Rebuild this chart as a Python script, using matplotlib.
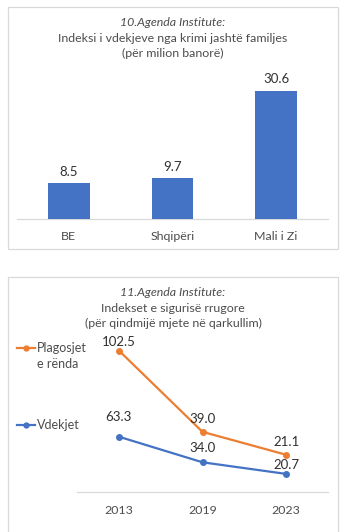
import matplotlib
matplotlib.use("Agg")
import matplotlib.pyplot as plt
from matplotlib.patches import Rectangle
from matplotlib.lines import Line2D

plt.rcParams['font.family'] = ['Lato', 'DejaVu Sans']

# ---- data ----
bar_categories = ["BE", "Shqipëri", "Mali i Zi"]
bar_values = [8.5, 9.7, 30.6]

years = ["2013", "2019", "2023"]
injuries = [102.5, 39.0, 21.1]   # Plagosjet e rënda
deaths = [63.3, 34.0, 20.7]      # Vdekjet

title1 = ["10.Agenda Institute:", "Indeksi i vdekjeve nga krimi jashtë familjes", "(për milion banorë)"]
title2 = ["11.Agenda Institute:", "Indekset e sigurisë rrugore", "(për qindmijë mjete në qarkullim)"]

W, H = 349, 532
fig = plt.figure(figsize=(W / 100, H / 100), dpi=100)
fig.patch.set_facecolor("white")

def fx(px):
    return px / W

def fy(py):
    return 1 - py / H

BLUE = "#4472C4"
ORANGE = "#ED7D31"
GRID = "#D9D9D9"
TXT = "#4D4D4D"
LBL = "#303030"
FS_T = 8.9
FS_V = 9.5
FS_X = 8.9

# chart borders
fig.add_artist(Rectangle((fx(8), fy(249)), fx(338) - fx(8), fy(7) - fy(249),
                         transform=fig.transFigure, fill=False, edgecolor=GRID, lw=0.9))
fig.add_artist(Rectangle((fx(8), fy(545)), fx(338) - fx(8), fy(277) - fy(545),
                         transform=fig.transFigure, fill=False, edgecolor=GRID, lw=0.9))

# ---- top chart: bars ----
ax1 = fig.add_axes([fx(17), fy(219), fx(328) - fx(17), fy(70) - fy(219)])
xs = range(len(bar_categories))
ax1.bar(xs, bar_values, width=0.40, color=BLUE, zorder=3)
ax1.set_xlim(-0.5, 2.5)
ax1.set_ylim(0, 35.62)
for x, v in zip(xs, bar_values):
    ax1.annotate(f"{v:.1f}", (x, v), xytext=(0, 4), textcoords="offset points",
                 ha="center", va="bottom", fontsize=FS_V, color=LBL)
ax1.set_xticks(list(xs))
ax1.set_xticklabels(bar_categories, fontsize=FS_X, color=TXT)
ax1.tick_params(axis="x", length=0, pad=9)
ax1.set_yticks([])
for s in ["top", "left", "right"]:
    ax1.spines[s].set_visible(False)
ax1.spines["bottom"].set_color(GRID)
ax1.spines["bottom"].set_linewidth(0.9)
ax1.patch.set_alpha(0)

fig.text(fx(173), fy(23), title1[0], ha="center", va="center", fontsize=FS_T,
         color=TXT, style="italic")
fig.text(fx(173), fy(38), title1[1], ha="center", va="center", fontsize=FS_T, color=TXT)
fig.text(fx(173), fy(53), title1[2], ha="center", va="center", fontsize=FS_T, color=TXT)

# ---- bottom chart: lines ----
ax2 = fig.add_axes([fx(77), fy(492), fx(328) - fx(77), fy(335) - fy(492)])
xp = range(len(years))
ax2.plot(list(xp), deaths, color=BLUE, lw=1.6, marker="o", ms=4, zorder=3)
ax2.set_xlim(-0.5, 2.5)
ax2.set_ylim(0, 179.7)
ax2.set_xticks(list(xp))
ax2.set_xticklabels(years, fontsize=FS_X, color=TXT)
ax2.tick_params(axis="x", length=0, pad=9)
ax2.set_yticks([])
for s in ["top", "left", "right"]:
    ax2.spines[s].set_visible(False)
ax2.spines["bottom"].set_color(GRID)
ax2.spines["bottom"].set_linewidth(0.9)
ax2.patch.set_alpha(0)

ax3 = ax2.twinx()
ax3.plot(list(xp), injuries, color=ORANGE, lw=1.6, marker="o", ms=4, zorder=3)
ax3.set_ylim(-7.96, 114.6)
ax3.set_yticks([])
for s in ["top", "left", "right", "bottom"]:
    ax3.spines[s].set_visible(False)

inj_off = [2, 5, 5]
dea_off = [10, 6, 2]
for x, v, o in zip(xp, injuries, inj_off):
    ax3.annotate(f"{v:.1f}", (x, v), xytext=(0, o), textcoords="offset points",
                 ha="center", va="bottom", fontsize=FS_V, color=LBL)
for x, v, o in zip(xp, deaths, dea_off):
    ax2.annotate(f"{v:.1f}", (x, v), xytext=(0, o), textcoords="offset points",
                 ha="center", va="bottom", fontsize=FS_V, color=LBL)

fig.text(fx(173), fy(292), title2[0], ha="center", va="center", fontsize=FS_T,
         color=TXT, style="italic")
fig.text(fx(173), fy(308), title2[1], ha="center", va="center", fontsize=FS_T, color=TXT)
fig.text(fx(173), fy(323), title2[2], ha="center", va="center", fontsize=FS_T, color=TXT)

# legend (manual, left side)
for color, ly in [(ORANGE, 348), (BLUE, 425)]:
    fig.add_artist(Line2D([fx(17), fx(35)], [fy(ly), fy(ly)], transform=fig.transFigure,
                          color=color, lw=1.6))
    fig.add_artist(Line2D([fx(26)], [fy(ly)], transform=fig.transFigure,
                          color=color, marker="o", ms=3.5))
fig.text(fx(37), fy(348), "Plagosjet", ha="left", va="center", fontsize=9.0, color=TXT)
fig.text(fx(37), fy(364), "e rënda", ha="left", va="center", fontsize=9.0, color=TXT)
fig.text(fx(37), fy(425), "Vdekjet", ha="left", va="center", fontsize=9.0, color=TXT)

fig.savefig("out.png", dpi=100, facecolor="white")
